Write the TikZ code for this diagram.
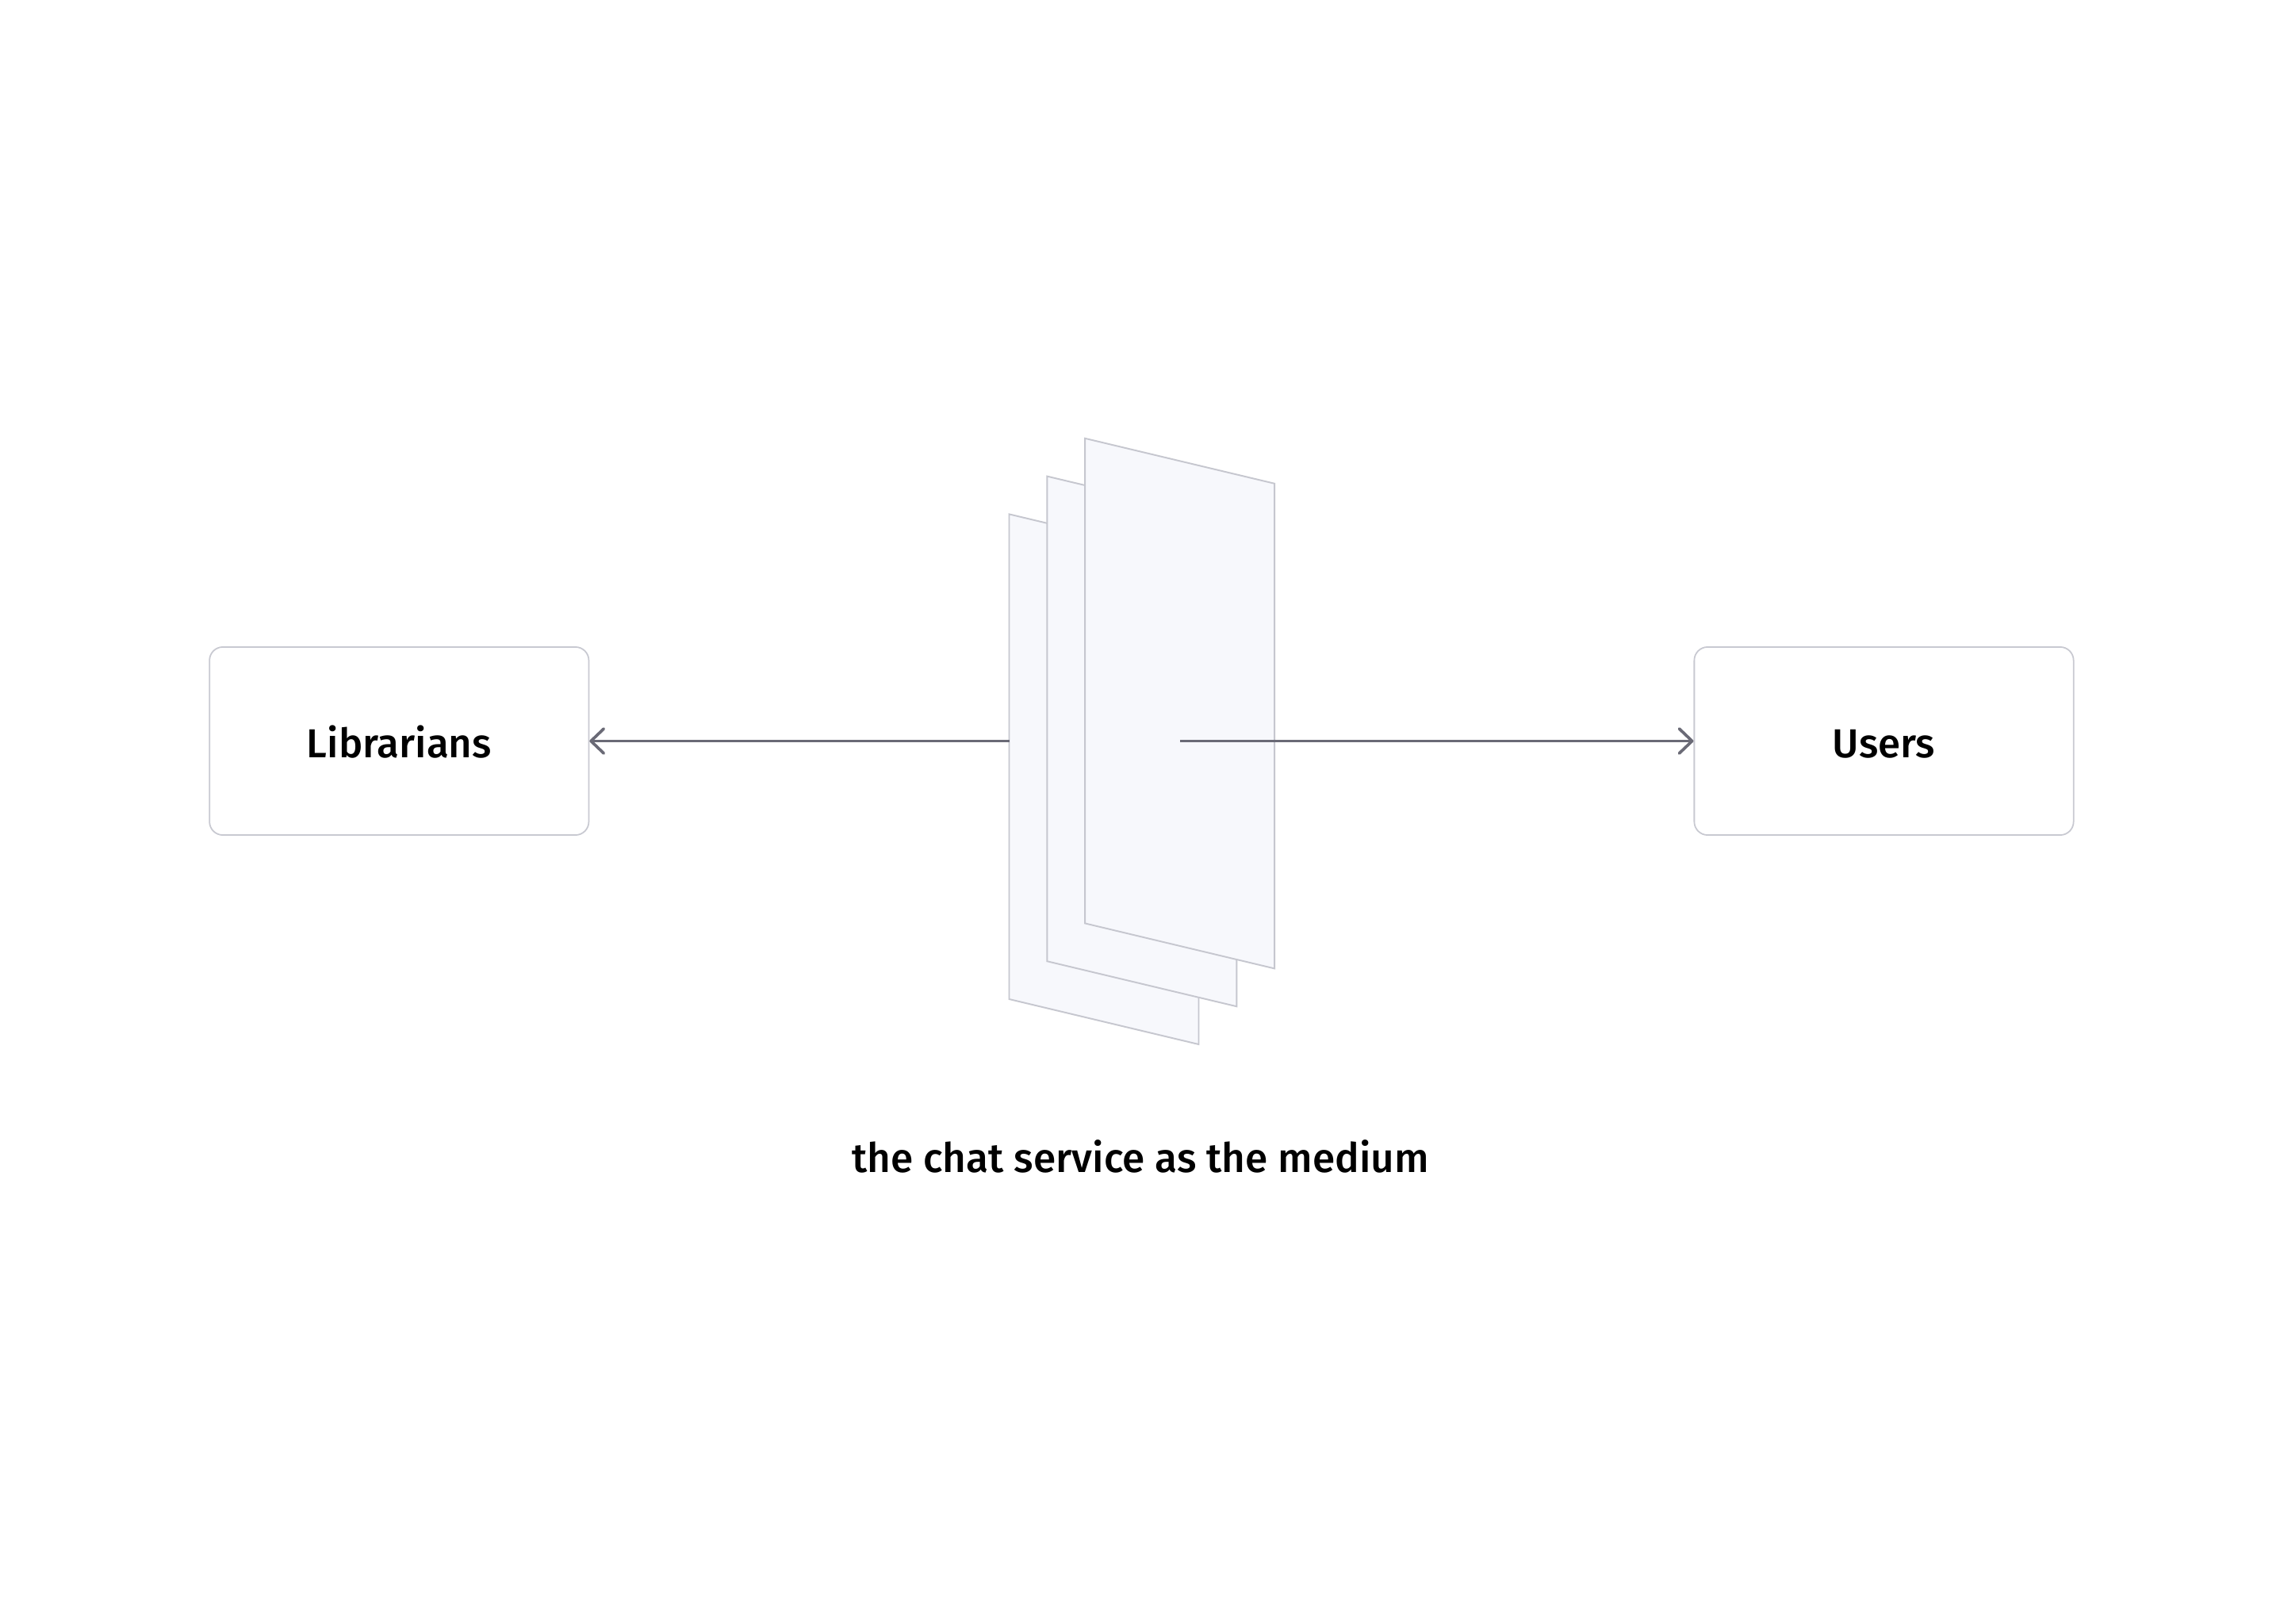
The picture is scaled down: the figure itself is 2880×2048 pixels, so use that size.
\documentclass[tikz,border=0pt]{standalone}
\usepackage{fontspec}
\setmainfont{Fira Sans Medium}
\usetikzlibrary{arrows.meta}
\definecolor{boxline}{HTML}{C8C9D1}
\definecolor{sheetfill}{HTML}{F7F8FC}
\definecolor{sheetline}{HTML}{C6C7CF}
\definecolor{arrowc}{HTML}{6A6A76}
\begin{document}
\begin{tikzpicture}[x=0.01cm,y=-0.01cm,
  actor/.style={draw=boxline, line width=0.5pt, rounded corners=4.8pt,
    minimum width=4.78cm, minimum height=2.37cm, inner sep=0pt,
    text height=11.7pt, text depth=0pt,
    font=\fontsize{14.5}{16}\selectfont, text=black},
  sheet/.style={fill=sheetfill, draw=sheetline, line width=0.55pt, line join=miter},
  link/.style={draw=arrowc, line width=1.05pt,
    -{Straight Barb[length=4.6pt,width=8.8pt,round]}},
  caption/.style={font=\fontsize{14.6}{16}\selectfont, text=black, inner sep=0pt, anchor=base}
]
\fill[white] (0,0) rectangle (2880,2048);
\useasboundingbox (0,0) rectangle (2880,2048);

% stacked sheets (the chat service)
\draw[sheet] (1272.5,648.4) -- ++(239,57) -- ++(0,611.6) -- ++(-239,-57) -- cycle;
\draw[sheet] (1320.3,600.6) -- ++(239,57) -- ++(0,611.6) -- ++(-239,-57) -- cycle;
\draw[sheet] (1368.1,552.8) -- ++(239,57) -- ++(0,611.6) -- ++(-239,-57) -- cycle;

\node[actor] (lib) at (503.3,934.5) {Librarians};
\node[actor] (usr) at (2375.5,934.5) {Users};

\coordinate (lstart) at (1272.5,934.5);
\coordinate (rstart) at (1488,934.5);

\draw[link] (lstart) -- (lib);
\draw[link] (rstart) -- (usr);

\node[caption] (cap) at (1438,1478) {the chat service as the medium};
\end{tikzpicture}
\end{document}
